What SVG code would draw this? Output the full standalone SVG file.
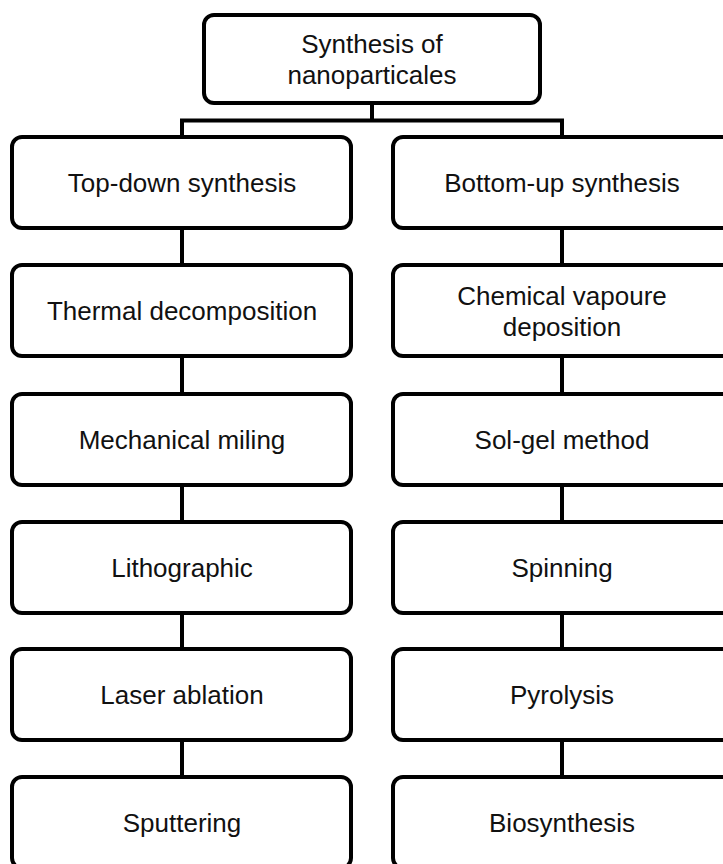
<svg xmlns="http://www.w3.org/2000/svg" width="723" height="864" viewBox="0 0 723 864">
<style>
.box{fill:#fff;stroke:#000;stroke-width:4}
.lbl{font-family:"Liberation Sans",Arial,sans-serif;font-size:26px;fill:#111;text-anchor:middle}
.conn{stroke:#000;stroke-width:4;fill:none}
</style>
<rect width="723" height="864" fill="#fff"/>
<g id="connectors">
<path class="conn" d="M372 103V120.5M180 120.5H564M182 120.5V137M562 120.5V137"/>
<path class="conn" d="M182 228V265M182 356V394M182 485V522M182 613V649M182 740V777"/>
<path class="conn" d="M562 228V265M562 356V394M562 485V522M562 613V649M562 740V777"/>
</g>
<g id="root"><rect class="box" x="204" y="15" width="336" height="88" rx="10"/><text class="lbl" x="372" y="53">Synthesis of</text><text class="lbl" x="372" y="84">nanoparticales</text></g>
<g id="topdown"><rect class="box" x="12" y="137" width="339" height="91" rx="10"/><text class="lbl" x="182" y="192">Top-down synthesis</text></g>
<g id="bottomup"><rect class="box" x="393" y="137" width="339" height="91" rx="10"/><text class="lbl" x="562" y="192">Bottom-up synthesis</text></g>
<g id="thermal"><rect class="box" x="12" y="265" width="339" height="91" rx="10"/><text class="lbl" x="182" y="320">Thermal decomposition</text></g>
<g id="cvd"><rect class="box" x="393" y="265" width="339" height="91" rx="10"/><text class="lbl" x="562" y="305">Chemical vapoure</text><text class="lbl" x="562" y="336">deposition</text></g>
<g id="milling"><rect class="box" x="12" y="394" width="339" height="91" rx="10"/><text class="lbl" x="182" y="449">Mechanical miling</text></g>
<g id="solgel"><rect class="box" x="393" y="394" width="339" height="91" rx="10"/><text class="lbl" x="562" y="449">Sol-gel method</text></g>
<g id="litho"><rect class="box" x="12" y="522" width="339" height="91" rx="10"/><text class="lbl" x="182" y="577">Lithographic</text></g>
<g id="spinning"><rect class="box" x="393" y="522" width="339" height="91" rx="10"/><text class="lbl" x="562" y="577">Spinning</text></g>
<g id="laser"><rect class="box" x="12" y="649" width="339" height="91" rx="10"/><text class="lbl" x="182" y="704">Laser ablation</text></g>
<g id="pyrolysis"><rect class="box" x="393" y="649" width="339" height="91" rx="10"/><text class="lbl" x="562" y="704">Pyrolysis</text></g>
<g id="sputtering"><rect class="box" x="12" y="777" width="339" height="91" rx="10"/><text class="lbl" x="182" y="832">Sputtering</text></g>
<g id="bio"><rect class="box" x="393" y="777" width="339" height="91" rx="10"/><text class="lbl" x="562" y="832">Biosynthesis</text></g>
</svg>
